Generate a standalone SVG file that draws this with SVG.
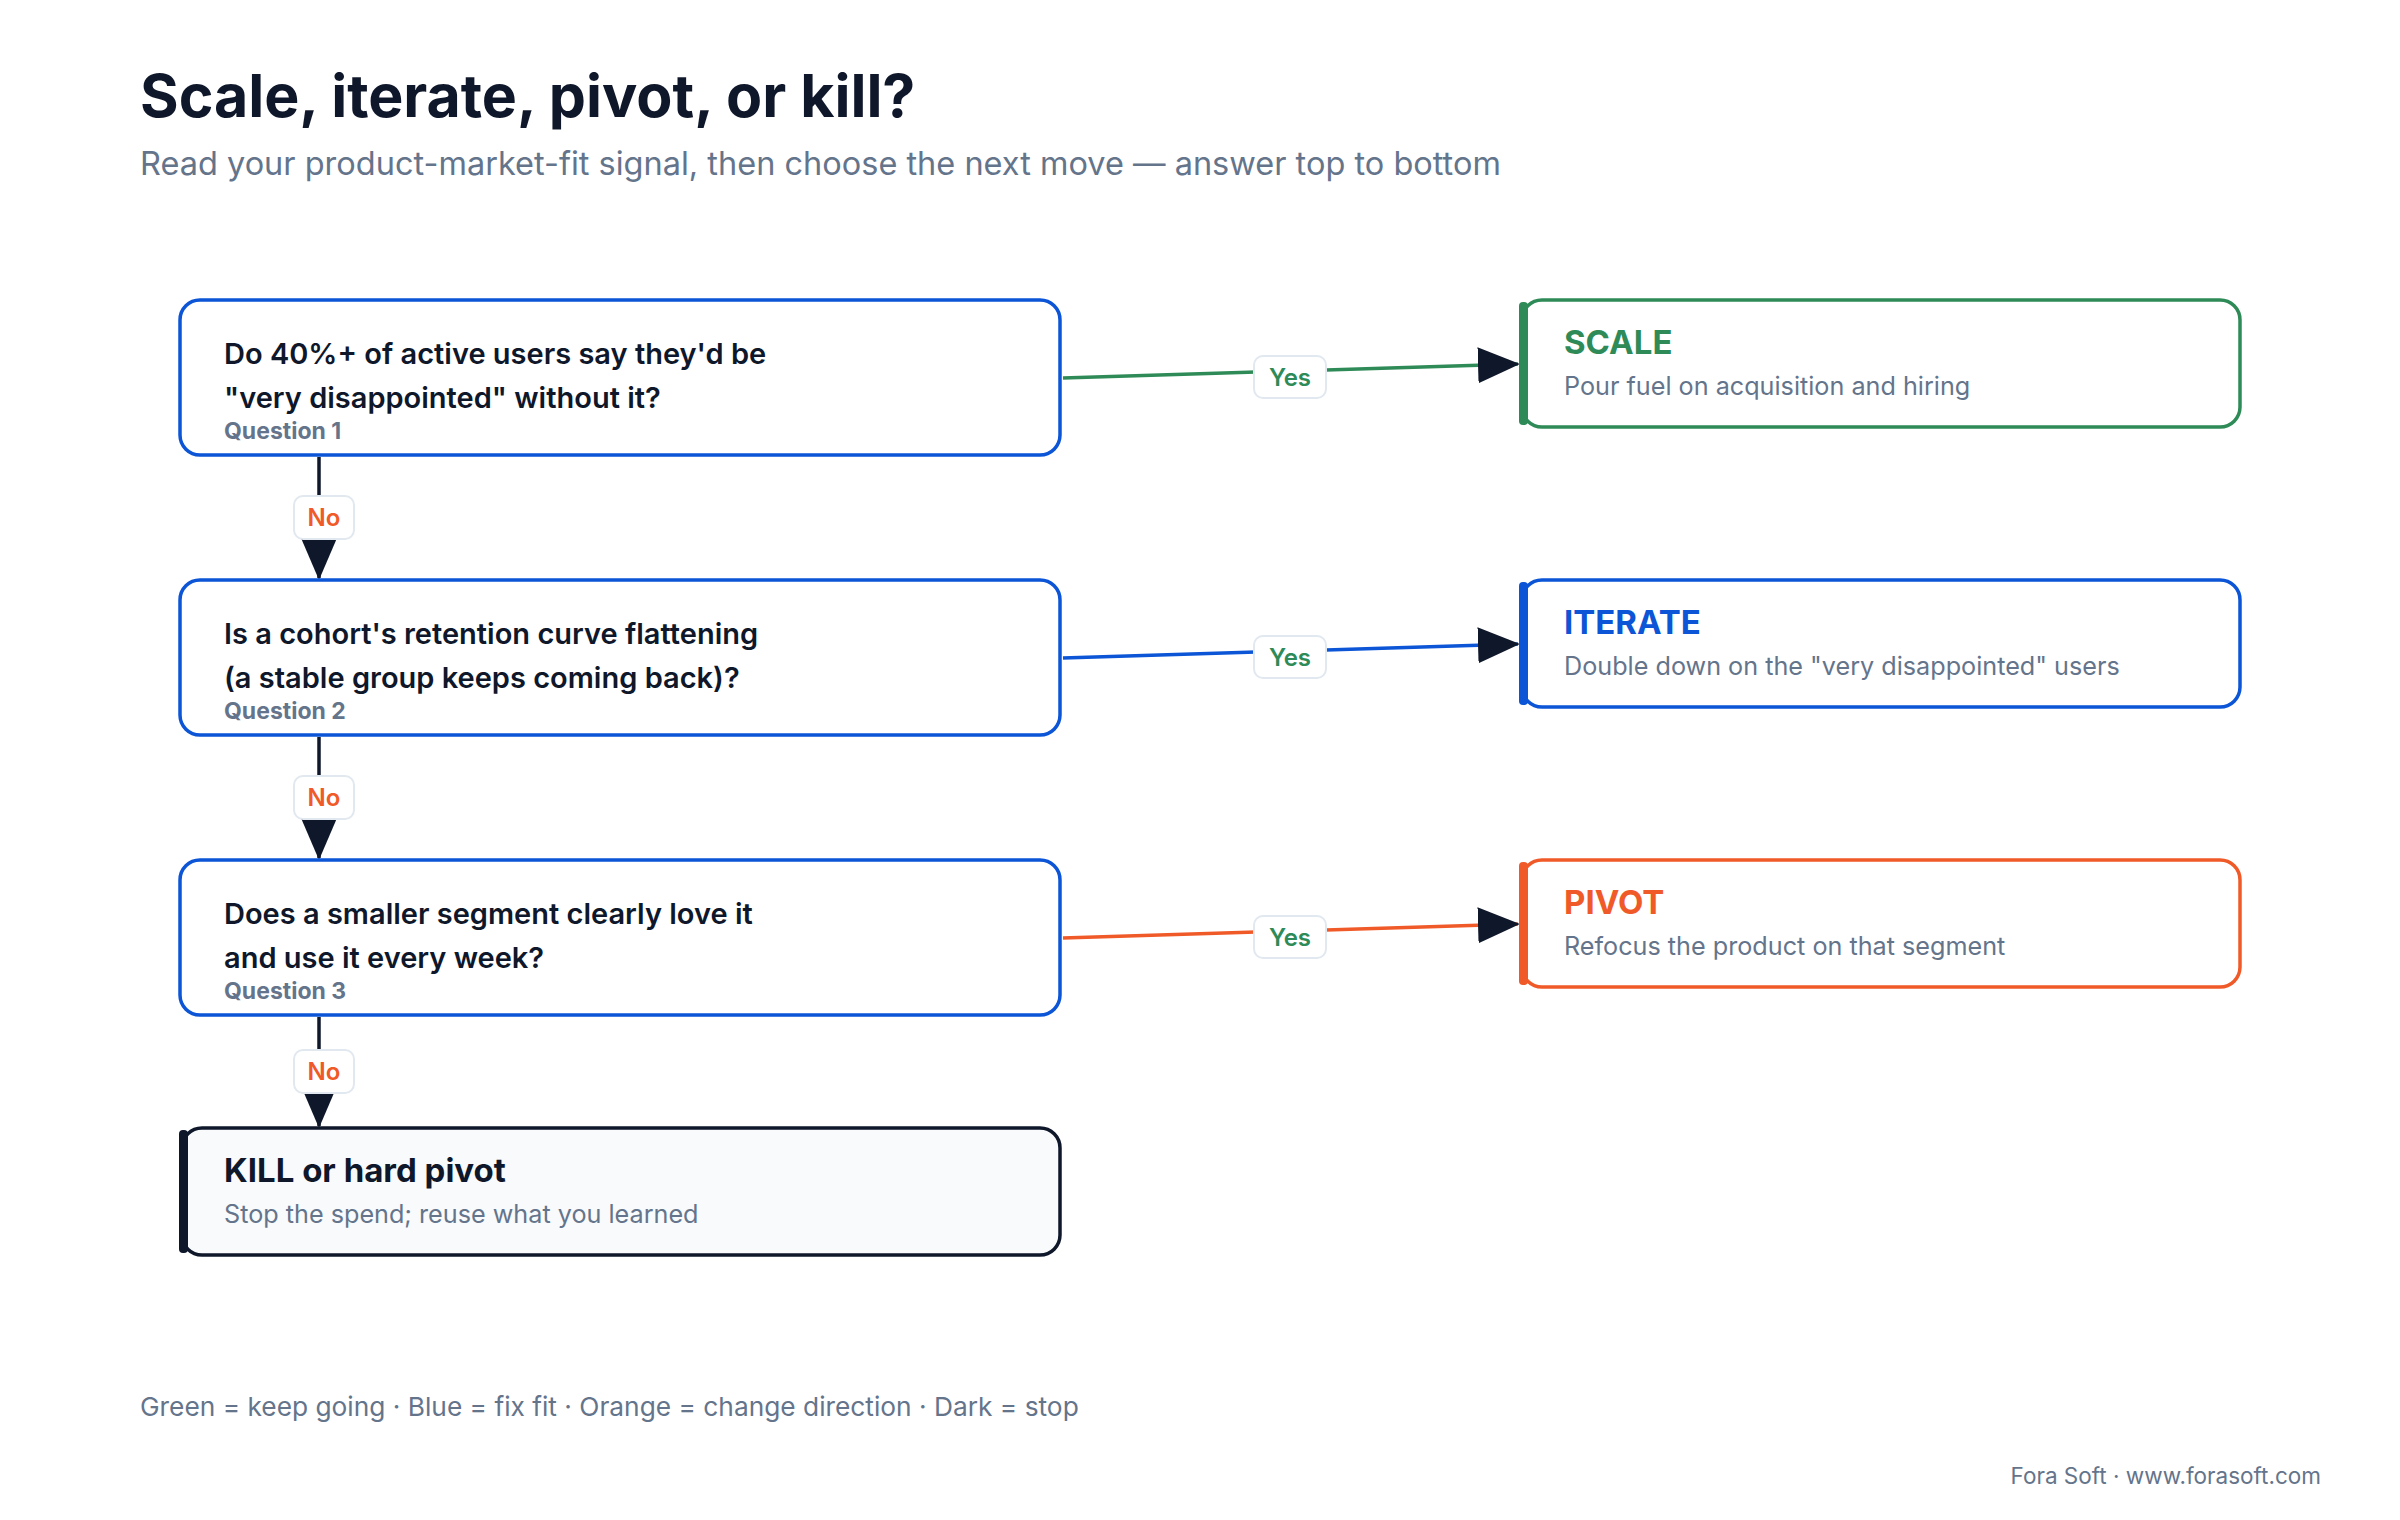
<svg xmlns="http://www.w3.org/2000/svg" width="2400" height="1520" viewBox="0 0 2400 1520">
<style>
text{font-family:Inter,"Noto Sans","Liberation Sans",sans-serif}
.q{fill:#fff;stroke:#0b55d6;stroke-width:3.5}
.qt{font-size:29px;font-weight:600;fill:#0f172a}
.ql{font-size:23px;font-weight:700;fill:#64748b}
.ot{font-size:33px;font-weight:700}
.os{font-size:25.2px;fill:#64748b}
.lb{fill:#fff;stroke:#e2e8f0;stroke-width:2}
.yes{font-size:24px;font-weight:600;fill:#2e8b57;text-anchor:middle}
.no{font-size:24px;font-weight:600;fill:#f05a28;text-anchor:middle}
</style>
<defs>
<marker id="ar" markerUnits="userSpaceOnUse" markerWidth="42" markerHeight="36" refX="40" refY="18" orient="auto"><path d="M0,0 L42,18 L0,36 Z" fill="#0f172a"/></marker>
</defs>
<rect width="2400" height="1520" fill="#fff"/>
<text x="140" y="117" font-size="59" font-weight="700" fill="#0f172a">Scale, iterate, pivot, or kill?</text>
<text x="140" y="175" font-size="32.5" fill="#64748b">Read your product-market-fit signal, then choose the next move — answer top to bottom</text>

<g id="connectors" fill="none" stroke-width="3.5">
<path d="M1063,378 L1518,364" stroke="#2e8b57" marker-end="url(#ar)"/>
<path d="M1063,658 L1518,644" stroke="#0b55d6" marker-end="url(#ar)"/>
<path d="M1063,938 L1518,924" stroke="#f05a28" marker-end="url(#ar)"/>
<path d="M319,457 L319,578" stroke="#0f172a" marker-end="url(#ar)"/>
<path d="M319,737 L319,858" stroke="#0f172a" marker-end="url(#ar)"/>
<path d="M319,1017 L319,1126" stroke="#0f172a" marker-end="url(#ar)"/>
<rect class="lb" x="1254" y="356" width="72" height="42" rx="9"/><text class="yes" x="1290" y="386">Yes</text>
<rect class="lb" x="1254" y="636" width="72" height="42" rx="9"/><text class="yes" x="1290" y="666">Yes</text>
<rect class="lb" x="1254" y="916" width="72" height="42" rx="9"/><text class="yes" x="1290" y="946">Yes</text>
<rect class="lb" x="294" y="496" width="60" height="43" rx="9"/><text class="no" x="324" y="526">No</text>
<rect class="lb" x="294" y="776" width="60" height="43" rx="9"/><text class="no" x="324" y="806">No</text>
<rect class="lb" x="294" y="1050" width="60" height="43" rx="9"/><text class="no" x="324" y="1080">No</text>
</g>

<g id="q1"><rect class="q" x="180" y="300" width="880" height="155" rx="20"/>
<text class="qt" x="224" y="364">Do 40%+ of active users say they'd be</text>
<text class="qt" x="224" y="408">"very disappointed" without it?</text>
<text class="ql" x="224" y="439">Question 1</text></g>
<g id="q2"><rect class="q" x="180" y="580" width="880" height="155" rx="20"/>
<text class="qt" x="224" y="644">Is a cohort's retention curve flattening</text>
<text class="qt" x="224" y="688">(a stable group keeps coming back)?</text>
<text class="ql" x="224" y="719">Question 2</text></g>
<g id="q3"><rect class="q" x="180" y="860" width="880" height="155" rx="20"/>
<text class="qt" x="224" y="924">Does a smaller segment clearly love it</text>
<text class="qt" x="224" y="968">and use it every week?</text>
<text class="ql" x="224" y="999">Question 3</text></g>

<g id="scale"><rect x="1522" y="300" width="718" height="127" rx="20" fill="#fff" stroke="#2e8b57" stroke-width="3.5"/>
<rect x="1519" y="302" width="9" height="123" rx="4" fill="#2e8b57"/>
<text class="ot" x="1564" y="354" fill="#2e8b57">SCALE</text>
<text class="os" x="1564" y="395">Pour fuel on acquisition and hiring</text></g>
<g id="iterate"><rect x="1522" y="580" width="718" height="127" rx="20" fill="#fff" stroke="#0b55d6" stroke-width="3.5"/>
<rect x="1519" y="582" width="9" height="123" rx="4" fill="#0b55d6"/>
<text class="ot" x="1564" y="634" fill="#0b55d6">ITERATE</text>
<text class="os" x="1564" y="675">Double down on the "very disappointed" users</text></g>
<g id="pivot"><rect x="1522" y="860" width="718" height="127" rx="20" fill="#fff" stroke="#f05a28" stroke-width="3.5"/>
<rect x="1519" y="862" width="9" height="123" rx="4" fill="#f05a28"/>
<text class="ot" x="1564" y="914" fill="#f05a28">PIVOT</text>
<text class="os" x="1564" y="955">Refocus the product on that segment</text></g>
<g id="kill"><rect x="182" y="1128" width="878" height="127" rx="20" fill="#f8fafc" stroke="#0f172a" stroke-width="3.5"/>
<rect x="179" y="1130" width="9" height="123" rx="4" fill="#0f172a"/>
<text class="ot" x="224" y="1182" fill="#0f172a">KILL or hard pivot</text>
<text class="os" x="224" y="1223">Stop the spend; reuse what you learned</text></g>

<text x="140" y="1416" font-size="26.3" fill="#64748b">Green = keep going · Blue = fix fit · Orange = change direction · Dark = stop</text>
<text x="2321" y="1484" font-size="22.5" fill="#64748b" text-anchor="end">Fora Soft · www.forasoft.com</text>
</svg>
